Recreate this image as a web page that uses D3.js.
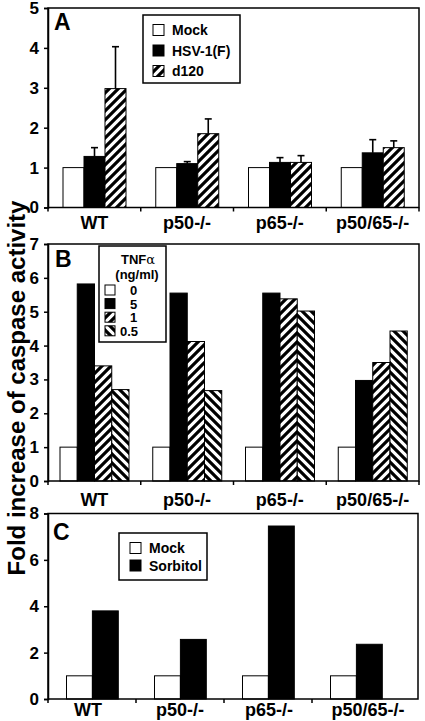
<!DOCTYPE html>
<html><head><meta charset="utf-8">
<script src="https://cdn.jsdelivr.net/npm/d3@7"></script>
<style>
html,body{margin:0;padding:0;background:#fff;}
svg{display:block;font-family:"Liberation Sans",Arial,sans-serif;font-weight:bold;}
</style></head>
<body>
<script>
// ---------- data ----------
const groups = ["WT", "p50-/-", "p65-/-", "p50/65-/-"];

// Panel A
const seriesA = ["Mock", "HSV-1(F)", "d120"];
const mockA = [1, 1, 1, 1];
const hsvA = [1.28, 1.10, 1.13, 1.37];
const hsvErrA = [0.22, 0.05, 0.12, 0.33];
const d120A = [2.98, 1.85, 1.13, 1.50];
const d120ErrA = [1.05, 0.37, 0.17, 0.17];
const ticksA = [0, 1, 2, 3, 4, 5];

// Panel B
const seriesB = ["0", "5", "1", "0.5"];
const tnf0 = [1, 1, 1, 1];
const tnf5 = [5.82, 5.55, 5.55, 2.97];
const tnf1 = [3.40, 4.12, 5.38, 3.50];
const tnf05 = [2.70, 2.67, 5.02, 4.43];
const ticksB = [0, 1, 2, 3, 4, 5, 6, 7];

// Panel C
const seriesC = ["Mock", "Sorbitol"];
const mockC = [1, 1, 1, 1];
const sorbC = [3.80, 2.57, 7.46, 2.36];
const ticksC = [0, 2, 4, 6, 8];

const yTitle = "Fold increase of caspase activity";

// ---------- drawing ----------
const W = 425, H = 721;
const svg = d3.select("body").append("svg").attr("width", W).attr("height", H);

const defs = svg.append("defs");
function stripe(id, dir) {
  const p = defs.append("pattern").attr("id", id).attr("patternUnits", "userSpaceOnUse")
    .attr("width", 9).attr("height", 9);
  p.append("rect").attr("width", 9).attr("height", 9).attr("fill", "#fff");
  const d = dir === "up"
    ? "M-3,3 L3,-3 M-3,12 L12,-3 M6,12 L12,6"
    : "M-3,6 L3,12 M-3,-3 L12,12 M6,-3 L12,3";
  p.append("path").attr("d", d).attr("stroke", "#000").attr("stroke-width", 3.2);
}
stripe("fwd", "up");
stripe("back", "down");

const fills = { white: "#fff", black: "#000", fwd: "url(#fwd)", back: "url(#back)" };

function panel(cfg) {
  const g = svg.append("g");
  const x = d3.scaleBand().domain(groups).range(cfg.xr).padding(0);
  const xi = d3.scaleBand().domain(cfg.series).range(cfg.inner).padding(0);
  const y = d3.scaleLinear().domain([0, cfg.ymax]).range([cfg.y0, cfg.ytop]);

  // bars
  cfg.series.forEach((s, si) => {
    const vals = cfg.values[si];
    g.selectAll(null).data(groups).enter().append("rect")
      .attr("x", d => x(d) + xi(s))
      .attr("y", (d, i) => y(vals[i]))
      .attr("width", xi.bandwidth())
      .attr("height", (d, i) => y(0) - y(vals[i]))
      .attr("fill", fills[cfg.fills[si]])
      .attr("stroke", "#000").attr("stroke-width", 1);
    if (cfg.errors && cfg.errors[si]) {
      const errs = cfg.errors[si];
      groups.forEach((d, i) => {
        const cx = x(d) + xi(s) + xi.bandwidth() / 2;
        g.append("line").attr("x1", cx).attr("x2", cx)
          .attr("y1", y(vals[i])).attr("y2", y(vals[i] + errs[i]))
          .attr("stroke", "#000").attr("stroke-width", 1.6);
        g.append("line").attr("x1", cx - 3.5).attr("x2", cx + 3.5)
          .attr("y1", y(vals[i] + errs[i])).attr("y2", y(vals[i] + errs[i]))
          .attr("stroke", "#000").attr("stroke-width", 1.6);
      });
    }
  });

  // frame
  g.append("rect").attr("x", cfg.xr[0]).attr("y", cfg.ytop)
    .attr("width", cfg.frameRight - cfg.xr[0]).attr("height", cfg.y0 - cfg.ytop)
    .attr("fill", "none").attr("stroke", "#000").attr("stroke-width", 1.5);

  // y axis
  const ya = g.append("g").attr("transform", `translate(${cfg.xr[0]},0)`)
    .call(d3.axisLeft(y).tickValues(cfg.ticks).tickSize(4).tickPadding(5).tickFormat(d3.format("d")));
  ya.select(".domain").attr("stroke-width", 1.5);
  ya.selectAll(".tick line").attr("stroke-width", 1.5);
  ya.selectAll("text").attr("font-size", 17).attr("font-weight", "bold")
    .attr("font-family", "Liberation Sans, Arial, sans-serif");

  // x axis ticks at group boundaries
  const bounds = groups.map(d => x(d)).concat(cfg.endTick ? [cfg.xr[1]] : []);
  g.selectAll(null).data(bounds).enter().append("line")
    .attr("x1", d => d).attr("x2", d => d).attr("y1", cfg.y0).attr("y2", cfg.y0 + 4)
    .attr("stroke", "#000").attr("stroke-width", 1.5);
  // x labels
  g.selectAll(null).data(groups).enter().append("text")
    .attr("x", d => x(d) + x.bandwidth() / 2 + (cfg.labelShift ? cfg.labelShift[groups.indexOf(d)] : 0))
    .attr("y", cfg.labelY).attr("text-anchor", "middle").attr("font-size", 18).text(d => d);

  // panel letter
  g.append("text").attr("x", cfg.letterX).attr("y", cfg.letterY).attr("font-size", 23).text(cfg.letter);
  return g;
}

// Panel A
const gA = panel({
  xr: [48, 419], frameRight: 419, inner: [15, 78], series: seriesA,
  values: [mockA, hsvA, d120A], errors: [null, hsvErrA, d120ErrA],
  fills: ["white", "black", "fwd"], ymax: 5, y0: 207.5, ytop: 8, ticks: ticksA,
  labelY: 229, letter: "A", letterX: 54, letterY: 30, endTick: true
});
// Legend A
{
  const lg = gA.append("g");
  lg.append("rect").attr("x", 143).attr("y", 15).attr("width", 97).attr("height", 68)
    .attr("fill", "#fff").attr("stroke", "#000").attr("stroke-width", 1.5);
  const lf = ["white", "black", "fwd"];
  seriesA.forEach((s, i) => {
    const cy = 30 + i * 20.5;
    lg.append("rect").attr("x", 153).attr("y", cy - 5.5).attr("width", 11).attr("height", 11)
      .attr("fill", fills[lf[i]]).attr("stroke", "#000").attr("stroke-width", 1);
    lg.append("text").attr("x", 172).attr("y", cy + 5).attr("font-size", 14).text(s);
  });
}

// Panel B
const gB = panel({
  xr: [48, 419], frameRight: 419, inner: [12, 81], series: seriesB,
  values: [tnf0, tnf5, tnf1, tnf05], errors: null,
  fills: ["white", "black", "fwd", "back"], ymax: 7, y0: 481, ytop: 244, ticks: ticksB,
  labelY: 506, letter: "B", letterX: 55, letterY: 267, endTick: true
});
{
  const lg = gB.append("g");
  lg.append("rect").attr("x", 99).attr("y", 246).attr("width", 67).attr("height", 96)
    .attr("fill", "#fff").attr("stroke", "#000").attr("stroke-width", 1.5);
  const t = lg.append("text").attr("x", 138).attr("y", 264).attr("text-anchor", "middle").attr("font-size", 13);
  t.append("tspan").text("TNF");
  t.append("tspan").attr("font-weight", "normal").attr("font-family", "DejaVu Serif, serif").text("α");
  lg.append("text").attr("x", 137).attr("y", 279).attr("text-anchor", "middle").attr("font-size", 13).text("(ng/ml)");
  const lf = ["white", "black", "fwd", "back"];
  seriesB.forEach((s, i) => {
    const cy = 290 + i * 13.6;
    lg.append("rect").attr("x", 105).attr("y", cy - 5).attr("width", 10).attr("height", 10)
      .attr("fill", fills[lf[i]]).attr("stroke", "#000").attr("stroke-width", 1);
    lg.append("text").attr("x", s === "0.5" ? 120 : 130).attr("y", cy + 5).attr("font-size", 13).text(s);
  });
}

// Panel C
const gC = panel({
  xr: [48, 400], frameRight: 418, inner: [18.5, 70.3], series: seriesC,
  values: [mockC, sorbC], errors: null,
  fills: ["white", "black"], ymax: 8, y0: 699, ytop: 513.5, ticks: ticksC,
  labelY: 716, letter: "C", letterX: 53, letterY: 540, endTick: false,
  labelShift: [-4, 0, 1, 12]
});
{
  const lg = gC.append("g");
  lg.append("rect").attr("x", 119).attr("y", 533).attr("width", 88).attr("height", 47)
    .attr("fill", "#fff").attr("stroke", "#000").attr("stroke-width", 1.5);
  const lf = ["white", "black"];
  seriesC.forEach((s, i) => {
    const cy = 548 + i * 17.5;
    lg.append("rect").attr("x", 130).attr("y", cy - 5.5).attr("width", 11).attr("height", 11)
      .attr("fill", fills[lf[i]]).attr("stroke", "#000").attr("stroke-width", 1);
    lg.append("text").attr("x", 149).attr("y", cy + 5).attr("font-size", 14).text(s);
  });
}

// Y title
svg.append("text").attr("transform", "translate(25,388) rotate(-90)")
  .attr("text-anchor", "middle").attr("font-size", 24).text(yTitle);
</script>
</body></html>
